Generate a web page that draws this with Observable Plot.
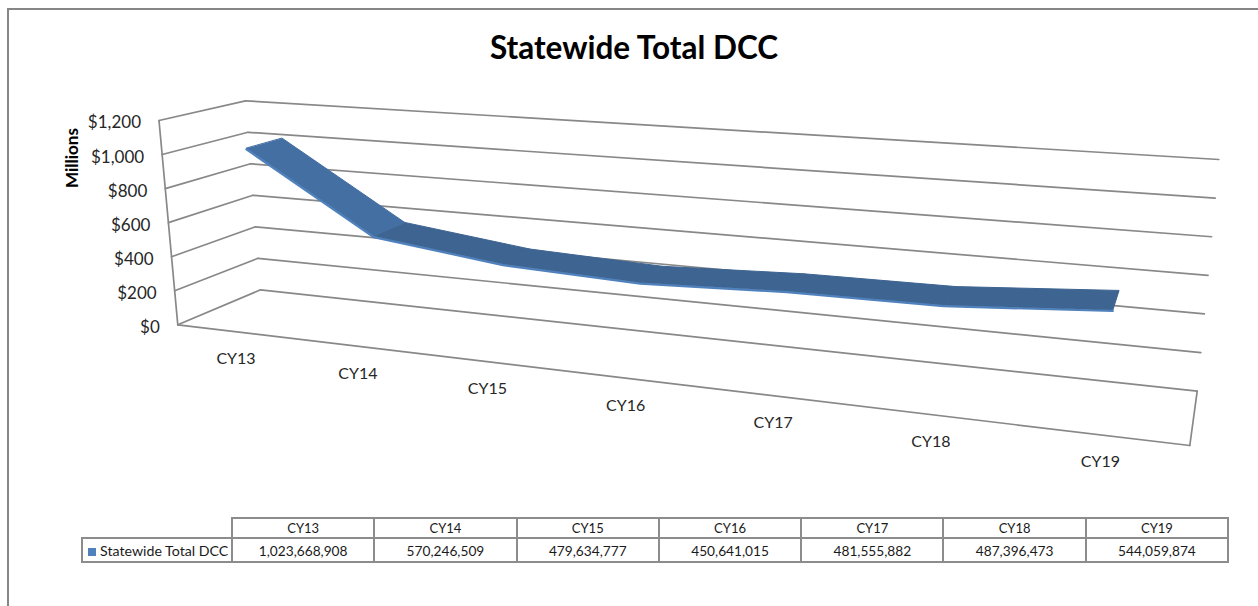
<!DOCTYPE html>
<html>
<head>
<meta charset="utf-8">
<script src="https://cdn.jsdelivr.net/npm/d3@7"></script>
<script src="https://cdn.jsdelivr.net/npm/@observablehq/plot@0.6"></script>
<style>
  html, body { margin: 0; padding: 0; background: #fff; }
  #page { position: relative; width: 1258px; height: 606px; overflow: hidden; font-family: Lato, "Open Sans", sans-serif; color: #1a1a1a; }
  #frame { position: absolute; left: 7px; top: 8px; right: -4px; bottom: -4px; border: 2px solid #868686; }
  #chart { position: absolute; left: 0; top: 0; }
  #title { position: absolute; left: 0; top: 27px; width: 1268px; text-align: center; font-size: 31.5px; font-weight: 700; color: #000; line-height: 40px; }
  #unit { position: absolute; left: 71px; top: 158px; transform: translate(-50%, -50%) rotate(-90deg); font-size: 17px; font-weight: 700; color: #000; white-space: nowrap; }
  #data { position: absolute; left: 81px; top: 517px; border-collapse: collapse; table-layout: fixed; font-size: 13.7px; }
  #data td { border: 2px solid #8c8c8c; text-align: center; padding: 0; overflow: hidden; white-space: nowrap; }
  #data tr:first-child td { height: 18px; font-size: 13px; }
  #data tr:last-child td { height: 22px; }
  #data td.blank { border: none; border-bottom: 2px solid #8c8c8c; }
  #data td.key { text-align: left; padding-left: 5px; box-sizing: border-box; font-size: 14.2px; }
  .swatch { display: inline-block; width: 8px; height: 8px; background: #4f81bd; margin-right: 4px; }
</style>
</head>
<body>
<div id="page">
  <div id="frame"></div>
  <div id="holder"></div>
  <div id="title"></div>
  <div id="unit"></div>
  <table id="data"></table>
</div>
<script>
const chartTitle = "Statewide Total DCC";
const seriesName = "Statewide Total DCC";
const unitLabel = "Millions";
const categories = ["CY13", "CY14", "CY15", "CY16", "CY17", "CY18", "CY19"];
const totals = [1023668908, 570246509, 479634777, 450641015, 481555882, 487396473, 544059874];
const axisTicks = [0, 200, 400, 600, 800, 1000, 1200];

// Box corners of the 3-D plot area as seen in the picture, [x, y]
const box = {
  frontBottomLeft: [177.3, 324.3], frontTopLeft: [158.5, 120],
  backBottomLeft: [260, 289.3], backTopLeft: [245, 100.3],
  frontBottomRight: [1189.3, 445], frontTopRight: [1211, 195],
  backBottomRight: [1196.7, 390.7], backTopRight: [1218.3, 159]
};
const foreshorten = 1.26;      // perspective along the category axis
const ribbonDepth = [0.3, 0.74]; // ribbon's front and back edges

// Library scales for category position and value height
const across = Plot.scale({x: {type: "band", domain: categories, range: [0, 1], padding: 0, align: 0.5}});
const up = Plot.scale({y: {type: "linear", domain: [0, 1200], range: [0, 1]}});
const lerp = (a, b, f) => [a[0] + (b[0] - a[0]) * f, a[1] + (b[1] - a[1]) * f];
const bend = u => u / (u + foreshorten * (1 - u));
function project(u, millions, depth) {
  const t = bend(u), w = up.apply(millions);
  const frontL = lerp(box.frontBottomLeft, box.frontTopLeft, w);
  const frontR = lerp(box.frontBottomRight, box.frontTopRight, w);
  const backL = lerp(box.backBottomLeft, box.backTopLeft, w);
  const backR = lerp(box.backBottomRight, box.backTopRight, w);
  return lerp(lerp(frontL, frontR, t), lerp(backL, backR, t), depth);
}
const catU = c => across.apply(c) + across.bandwidth / 2;

// Wall and floor lines
const lines = [];
axisTicks.forEach(v => {
  lines.push({id: "side" + v, p: project(0, v, 0)}, {id: "side" + v, p: project(0, v, 1)});
  lines.push({id: "back" + v, p: project(0, v, 1)}, {id: "back" + v, p: project(1, v, 1)});
});
lines.push({id: "edgeL", p: project(0, 0, 0)}, {id: "edgeL", p: project(0, 1200, 0)});
lines.push({id: "floorF", p: project(0, 0, 0)}, {id: "floorF", p: project(1, 0, 0)});
lines.push({id: "floorR", p: project(1, 0, 0)}, {id: "floorR", p: project(1, 0, 1)});

// Ribbon: one quad per pair of neighbouring years
const quads = [];
categories.slice(0, -1).forEach((c, i) => {
  const a = catU(c), b = catU(categories[i + 1]);
  const va = totals[i] / 1e6, vb = totals[i + 1] / 1e6;
  quads.push(
    {seg: i, p: project(a, va, ribbonDepth[0])},
    {seg: i, p: project(b, vb, ribbonDepth[0])},
    {seg: i, p: project(b, vb, ribbonDepth[1])},
    {seg: i, p: project(a, va, ribbonDepth[1])}
  );
});
const frontEdge = categories.map((c, i) => ({p: project(catU(c), totals[i] / 1e6, ribbonDepth[0])}));

const tickRows = axisTicks.map(v => ({v, p: project(0, v, 0)}));
const catRows = categories.map(c => ({c, p: project(catU(c), 0, 0)}));
const X = d => d.p[0], Y = d => d.p[1];
const labelFont = "Lato, 'Open Sans', sans-serif";

const plot = Plot.plot({
  width: 1258, height: 606,
  marginTop: 0, marginRight: 0, marginBottom: 0, marginLeft: 0,
  style: {background: "transparent"},
  x: {domain: [0, 1258], range: [0, 1258], axis: null},
  y: {domain: [0, 606], range: [0, 606], axis: null},
  marks: [
    Plot.line(lines, {x: X, y: Y, z: "id", stroke: "#888888", strokeWidth: 1.7}),
    Plot.line(quads.filter(d => d.seg > 0), {x: X, y: Y, z: "seg", curve: "linear-closed", fill: "#3e6491", stroke: "#3e6491", strokeWidth: 1}),
    Plot.line(quads.filter(d => d.seg === 0), {x: X, y: Y, z: "seg", curve: "linear-closed", fill: "#446fa3", stroke: "#446fa3", strokeWidth: 1}),
    Plot.line(frontEdge, {x: X, y: Y, stroke: "#4f81bd", strokeWidth: 2.2, dy: 1}),
    Plot.text(tickRows, {x: X, y: Y, text: d => "$" + d3.format(",")(d.v), textAnchor: "end", dx: -18, dy: 2.5, fontSize: 17, fontFamily: labelFont, fill: "#262626"}),
    Plot.text(catRows, {x: X, y: Y, text: "c", dy: 27.5, fontSize: 16, fontFamily: labelFont, fill: "#262626"})
  ]
});
plot.id = "chart";
document.getElementById("holder").appendChild(plot);

document.getElementById("title").textContent = chartTitle;
document.getElementById("unit").textContent = unitLabel;

const table = document.getElementById("data");
const keyWidth = 150, colWidth = 142.3;
const cols = `<colgroup><col style="width:${keyWidth}px">` + categories.map(() => `<col style="width:${colWidth}px">`).join("") + `</colgroup>`;
table.style.width = (keyWidth + colWidth * categories.length) + "px";
table.innerHTML = cols +
  `<tr><td class="blank"></td>` + categories.map(c => `<td>${c}</td>`).join("") + `</tr>` +
  `<tr><td class="key"><span class="swatch"></span>${seriesName}</td>` + totals.map(v => `<td>${d3.format(",")(v)}</td>`).join("") + `</tr>`;
</script>
</body>
</html>
